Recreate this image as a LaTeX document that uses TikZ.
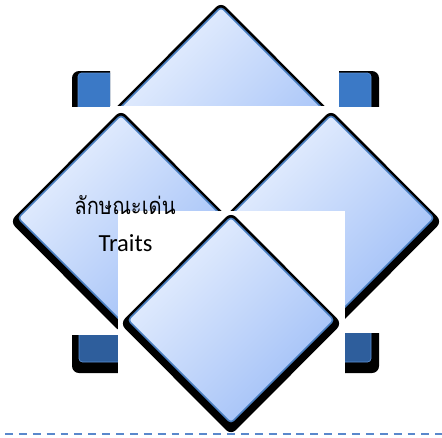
\documentclass[tikz,border=0pt]{standalone}
\usepackage{fontspec}
\setmainfont{Carlito}
\newfontfamily\thaifont[Script=Thai, FakeStretch=0.85]{Loma}
\usetikzlibrary{positioning}

\definecolor{tilelight}{HTML}{E8F0FE}
\definecolor{tiledark}{HTML}{A0BFF7}
\definecolor{tileline}{HTML}{4A7FC1}
\definecolor{cornertop}{HTML}{3B79C6}
\definecolor{cornerbot}{HTML}{2E5E9C}
\definecolor{cornerline}{HTML}{5B8FD2}
\definecolor{rulecolor}{HTML}{5A88CC}

\tikzset{
  tile/.pic={
    \fill[black, rounded corners=4pt] (0,-108) -- (111,3.5) -- (0,115) -- (-111,3.5) -- cycle;
    \shadedraw[top color=tilelight, bottom color=tiledark, shading angle=45,
      draw=tileline, line width=0.9pt, rounded corners=2pt]
      (0,-103) -- (103,0) -- (0,103) -- (-103,0) -- cycle;
  },
  cover/.style={fill=white},
  label text/.style={font=\fontsize{14}{16}\selectfont, text=black, inner sep=0pt, anchor=base},
}

\begin{document}
\begin{tikzpicture}[x=0.02cm, y=-0.02cm]
    \useasboundingbox (0,0) rectangle (442,437);

    % Tile centres
    \coordinate (Ttop) at (221,110);
    \coordinate (Tleft) at (121,218);
    \coordinate (Tright) at (331,218);
    \coordinate (Tbottom) at (231,320);

    % Corner pieces
    \begin{scope}
      \clip (72,71) rectangle (110,106);
      \fill[black, rounded corners=4pt] (72,71) rectangle (150,150);
      \filldraw[fill=cornertop, draw=cornerline, line width=0.4pt, rounded corners=2pt] (78,73) rectangle (150,150);
    \end{scope}
    \begin{scope}
      \clip (339,71) rectangle (379,106);
      \fill[black, rounded corners=4pt] (300,71) rectangle (379,150);
      \filldraw[fill=cornertop, draw=cornerline, line width=0.4pt, rounded corners=2pt] (300,73) rectangle (371,150);
    \end{scope}
    \begin{scope}
      \clip (72,335) rectangle (118,373);
      \fill[black, rounded corners=4pt] (72,300) rectangle (160,373);
      \filldraw[fill=cornerbot, draw=cornerline, line width=0.4pt, rounded corners=2pt] (79,300) rectangle (160,362);
    \end{scope}
    \begin{scope}
      \clip (345,333) rectangle (379,373);
      \fill[black, rounded corners=4pt] (300,300) rectangle (379,373);
      \filldraw[fill=cornerbot, draw=cornerline, line width=0.4pt, rounded corners=2pt] (300,300) rectangle (371,362);
    \end{scope}

    % Top tile, partly covered
    \pic at (Ttop) {tile};
    \fill[cover] (110,106) rectangle (339,216);

    % Side tiles
    \pic at (Tleft) {tile};
    \pic at (Tright) {tile};
    \fill[cover] (118,211) rectangle (345,385);

    % Bottom tile
    \pic at (Tbottom) {tile};

    % Labels
    \node[label text, font=\fontsize{13.5}{16}\selectfont] (thai) at (125,214) {\thaifont ลักษณะเด่น};
    \node[label text] (traits) at (125.5,251) {Traits};

    % Dashed rule
    \coordinate (rulestart) at (5,434);
    \coordinate (ruleend) at (442,434);
    \draw[rulecolor, line width=1.3pt, dash pattern=on 4.5pt off 3.4pt] (rulestart) -- (ruleend);

\end{tikzpicture}
\end{document}
